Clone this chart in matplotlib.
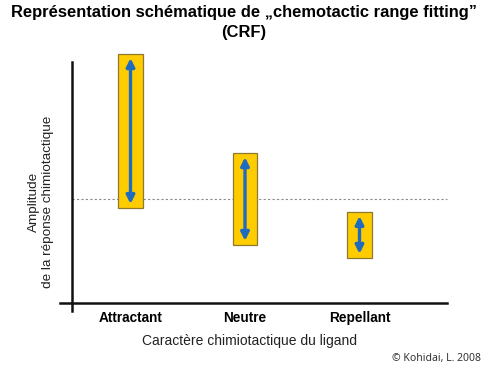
import numpy as np
from matplotlib import pyplot as plt

# schematic values (arbitrary amplitude units)
categories = ['Attractant', 'Neutre', 'Repellant']
range_low = [3.94, 2.41, 1.87]
range_high = [10.33, 6.22, 3.78]
baseline = 4.32

plt.rcParams['font.family'] = ['Liberation Sans', 'DejaVu Sans']

fig = plt.figure(figsize=(5, 3.75), dpi=100)
ax = fig.add_axes([0.11, 0.1467, 0.79, 0.7466])
ax.set_xlim(-0.6594, 2.7904)
ax.set_ylim(-0.7054, 10.913)

x = np.arange(len(categories))
low = np.array(range_low)
high = np.array(range_high)

ax.bar(x, high - low, bottom=low, width=0.218, color='#FFCC00',
       edgecolor='#8C7B2E', linewidth=0.9, zorder=3)
for xi, lo, hi in zip(x, low, high):
    ax.annotate('', xy=(xi, hi - 0.17), xytext=(xi, lo + 0.17),
                arrowprops=dict(arrowstyle='<|-|>', color='#1F6BBF', lw=2.4,
                                mutation_scale=12, shrinkA=0, shrinkB=0),
                zorder=4)

ax.plot([-0.511, 2.764], [baseline, baseline], color='#8A8A8A', lw=0.8,
        linestyle=(0, (2, 2)), zorder=2)

for side in ['top', 'right']:
    ax.spines[side].set_visible(False)
ax.spines['left'].set_position(('data', -0.511))
ax.spines['left'].set_bounds(-0.332, 10.0)
ax.spines['bottom'].set_position(('data', 0))
ax.spines['bottom'].set_bounds(-0.6157, 2.764)
for side in ['left', 'bottom']:
    ax.spines[side].set_linewidth(1.8)
    ax.spines[side].set_color('#111111')

ax.set_yticks([])
ax.set_xticks(x)
ax.set_xticklabels(categories, fontweight='bold', fontsize=9.8)
ax.tick_params(axis='x', length=0, pad=6)

fig.text(0.488, 1 - 13 / 375, 'Représentation schématique de „chemotactic range fitting”',
         ha='center', va='center', fontsize=11.9, fontweight='bold')
fig.text(0.488, 1 - 33 / 375, '(CRF)', ha='center', va='center',
         fontsize=11.9, fontweight='bold')
fig.text(0.5, 1 - 341 / 375, 'Caractère chimiotactique du ligand',
         ha='center', va='center', fontsize=10, color='#222222')
fig.text(0.082, 1 - 202 / 375, 'Amplitude\nde la réponse chimiotactique',
         ha='center', va='center', rotation=90, fontsize=9.7,
         color='#222222', linespacing=1.25)
fig.text(0.872, 1 - 358 / 375, '© Kohidai, L. 2008', ha='center', va='center',
         fontsize=7.5, color='#333333', family=['Noto Sans', 'DejaVu Sans'])

fig.savefig('out.png', dpi=100, facecolor='white')
